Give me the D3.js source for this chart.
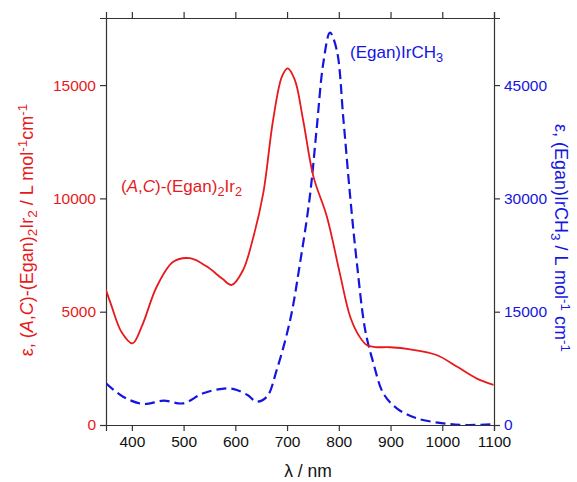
<!DOCTYPE html>
<html><head><meta charset="utf-8">
<script src="https://cdn.jsdelivr.net/npm/d3@7"></script>
<style>body{margin:0;background:#fff}svg{display:block}text{font-family:"Liberation Sans",Arial,Helvetica,sans-serif}</style>
</head><body><svg id="c" width="577" height="482"></svg>
<script>
// Red: (A,C)-(Egan)2Ir2 (left axis)
const redNm  = [350,360,380,401,420,448,480,512,545,575,593,615,635,654,673,690,701,715,731,751,777,802,822,840,854,870,899,938,989,1028,1066,1099];
const redEps = [5950,5300,4100,3600,4400,6100,7200,7360,6990,6450,6180,6840,8310,10230,13460,15370,15740,15230,13460,10960,9190,6690,4780,3900,3530,3440,3430,3340,3090,2580,2060,1770];
// Blue: (Egan)IrCH3 (right axis)
const blueNm  = [350,383,422,461,499,538,583,603,625,641,661,680,706,725,744,757,770,783,796,809,822,835,851,867,886,912,951,1002,1047,1099];
const blueEps = [5520,3750,2780,3220,2870,4200,4860,4630,3900,3090,3750,7280,13900,21400,30230,39060,47890,51940,49650,40380,30230,21400,12580,8170,4200,2210,880,225,0,100];
const xTicks = [400,500,600,700,800,900,1000,1100];
const leftTicks = [0,5000,10000,15000];
const rightTicks = [0,15000,30000,45000];

const RED = "#e8191c", BLUE = "#1515e0", AX = "#333";
const L = 106, R = 494, T = 18, B = 425;
const svg = d3.select("#c");
const x = d3.scaleLinear().domain([350,1100]).range([L,R]);
const yL = d3.scaleLinear().domain([0,17960]).range([B,T]);
const yR = d3.scaleLinear().domain([0,53880]).range([B,T]);

// axes
const fs = "15.5px";
const gb = svg.append("g").attr("transform",`translate(0,${B})`)
  .call(d3.axisBottom(x).tickValues(xTicks).tickSize(6).tickPadding(5).tickFormat(d3.format("d")));
const gt = svg.append("g").attr("transform",`translate(0,${T})`)
  .call(d3.axisTop(x).tickValues(xTicks).tickSize(6).tickFormat(""));
const gl = svg.append("g").attr("transform",`translate(${L},0)`)
  .call(d3.axisLeft(yL).tickValues(leftTicks).tickSize(6).tickPadding(4).tickFormat(d3.format("d")));
const gr = svg.append("g").attr("transform",`translate(${R},0)`)
  .call(d3.axisRight(yR).tickValues(rightTicks).tickSize(6).tickPadding(4).tickFormat(d3.format("d")));
[gb,gt,gl,gr].forEach(g=>{
  g.select(".domain").attr("stroke",AX).attr("stroke-width",1.2);
  g.selectAll(".tick line").attr("stroke",AX).attr("stroke-width",1.2);
  g.selectAll(".tick text").attr("font-size",fs).attr("font-family","Liberation Sans, Arial, sans-serif");
});
gb.selectAll(".tick text").attr("fill","#111");
gl.selectAll(".tick text").attr("fill",RED);
gr.selectAll(".tick text").attr("fill",BLUE);

const clip = svg.append("clipPath").attr("id","clp").append("rect")
  .attr("x",L).attr("y",T-10).attr("width",R-L).attr("height",B-T+10);

const redLine = d3.line().x(d=>x(d[0])).y(d=>yL(d[1])).curve(d3.curveCatmullRom.alpha(0.5));
const blueLine = d3.line().x(d=>x(d[0])).y(d=>yR(d[1])).curve(d3.curveCatmullRom.alpha(0.5));
svg.append("path").datum(blueNm.map((n,i)=>[n,blueEps[i]]))
  .attr("d",blueLine).attr("fill","none").attr("stroke",BLUE).attr("stroke-width",2.2)
  .attr("stroke-dasharray","10,5").attr("clip-path","url(#clp)");
svg.append("path").datum(redNm.map((n,i)=>[n,redEps[i]]))
  .attr("d",redLine).attr("fill","none").attr("stroke",RED).attr("stroke-width",1.8)
  .attr("clip-path","url(#clp)");

// rich text helper
function rich(t, parts){
  parts.forEach(p=>{
    const s = t.append("tspan").text(p.t);
    if(p.i) s.attr("font-style","italic");
    if(p.sub) s.attr("baseline-shift","-30%").attr("font-size","75%");
    if(p.sup) s.attr("baseline-shift","40%").attr("font-size","75%");
  });
}
// annotations
rich(svg.append("text").attr("x",121).attr("y",192).attr("fill",RED).attr("font-size","17px"),
  [{t:"("},{t:"A",i:1},{t:","},{t:"C",i:1},{t:")-(Egan)"},{t:"2",sub:1},{t:"Ir"},{t:"2",sub:1}]);
rich(svg.append("text").attr("x",350).attr("y",58).attr("fill",BLUE).attr("font-size","17px"),
  [{t:"(Egan)IrCH"},{t:"3",sub:1}]);

// axis titles
svg.append("text").attr("x",308).attr("y",477).attr("text-anchor","middle")
  .attr("font-size","17.5px").attr("fill","#111").text("λ / nm");
rich(svg.append("text").attr("transform","translate(33,230) rotate(-90)").attr("text-anchor","middle")
  .attr("fill",RED).attr("font-size","18px"),
  [{t:"ε, ("},{t:"A",i:1},{t:","},{t:"C",i:1},{t:")-(Egan)"},{t:"2",sub:1},{t:"Ir"},{t:"2",sub:1},
   {t:" / L mol"},{t:"-1",sup:1},{t:"cm"},{t:"-1",sup:1}]);
rich(svg.append("text").attr("transform","translate(555,238) rotate(90)").attr("text-anchor","middle")
  .attr("fill",BLUE).attr("font-size","18px"),
  [{t:"ε, (Egan)IrCH"},{t:"3",sub:1},{t:"  / L mol"},{t:"-1",sup:1},{t:" cm"},{t:"-1",sup:1}]);
</script></body></html>
